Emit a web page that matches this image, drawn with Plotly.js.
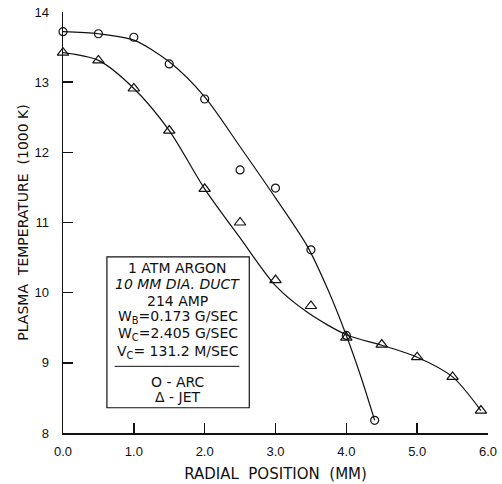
<!DOCTYPE html>
<html>
<head>
<meta charset="utf-8">
<script src="https://cdn.plot.ly/plotly-3.0.1.min.js"></script>
<style>html,body{margin:0;padding:0;background:#fff;}#chart{width:502px;height:484px;}</style>
</head>
<body>
<div id="chart"></div>
<script>
// Measured points
const arcX = [0.0, 0.5, 1.0, 1.5, 2.0, 2.5, 3.0, 3.5, 4.0, 4.4];
const arcY = [13.72, 13.69, 13.64, 13.26, 12.76, 11.75, 11.49, 10.61, 9.39, 8.18];
const jetX = [0.0, 0.5, 1.0, 1.5, 2.0, 2.5, 3.0, 3.5, 4.0, 4.5, 5.0, 5.5, 5.9];
const jetY = [13.42, 13.31, 12.91, 12.31, 11.48, 11.0, 10.18, 9.81, 9.36, 9.26, 9.08, 8.8, 8.32];
// Fitted curves
const arcFitX = [0.0, 0.5, 1.0, 1.5, 2.0, 2.5, 3.0, 3.45, 3.75, 4.0, 4.2, 4.4];
const arcFitY = [13.72, 13.69, 13.6, 13.29, 12.79, 12.08, 11.35, 10.66, 10.02, 9.39, 8.82, 8.18];
const jetFitX = [0.0, 0.5, 1.0, 1.5, 2.0, 2.5, 3.0, 3.45, 4.0, 4.5, 5.0, 5.5, 5.9];
const jetFitY = [13.42, 13.31, 12.91, 12.31, 11.48, 10.78, 10.1, 9.72, 9.4, 9.25, 9.08, 8.8, 8.32];
const xTicks = [0, 1, 2, 3, 4, 5, 6];
const xTickText = ["0.0", "1.0", "2.0", "3.0", "4.0", "5.0", "6.0"];
const yTicks = [8, 9, 10, 11, 12, 13, 14];
const yTickText = ["8", "9", "10", "11", "12", "13", "14"];
const boxLines = ["1 ATM ARGON", "<i>10 MM DIA. DUCT</i>", "214 AMP",
  "W<sub>B</sub>=0.173 G/SEC", "W<sub>C</sub>=2.405 G/SEC", "V<sub>C</sub>= 131.2 M/SEC"];
const keyLines = ["O - ARC", "Δ - JET"];

const FONT = "DejaVu Sans, Verdana, sans-serif";
const FONT2 = "Liberation Sans, Arial, sans-serif";
const traces = [
  {x: arcFitX, y: arcFitY, mode: "lines", line: {color: "#111", width: 1.2, shape: "spline", smoothing: 0.8}, hoverinfo: "skip"},
  {x: jetFitX, y: jetFitY, mode: "lines", line: {color: "#111", width: 1.2, shape: "spline", smoothing: 0.8}, hoverinfo: "skip"},
  {x: arcX, y: arcY, mode: "markers", cliponaxis: false,
   marker: {symbol: "circle-open", size: 8, color: "#111", line: {width: 1.2, color: "#111"}}},
  {x: jetX, y: jetY, mode: "markers", cliponaxis: false,
   marker: {symbol: "triangle-up-open", size: 10, color: "#111", line: {width: 1.2, color: "#111"}}}
];

const textYs = [10.35, 10.12, 9.88, 9.65, 9.41, 9.16];
const keyYs = [8.72, 8.51];
const annotations = [];
boxLines.forEach((t, i) => annotations.push({x: 1.62, y: textYs[i], xref: "x", yref: "y", text: t,
  showarrow: false, font: {family: FONT, size: 14, color: "#111"}, xanchor: "center", yanchor: "middle"}));
keyLines.forEach((t, i) => annotations.push({x: 1.62, y: keyYs[i], xref: "x", yref: "y", text: t,
  showarrow: false, font: {family: FONT, size: 14, color: "#111"}, xanchor: "center", yanchor: "middle"}));

const layout = {
  width: 502, height: 484,
  margin: {l: 63, r: 14, t: 12, b: 51},
  paper_bgcolor: "#fff", plot_bgcolor: "#fff",
  showlegend: false,
  font: {family: FONT, color: "#111"},
  xaxis: {range: [0, 6], tickvals: xTicks, ticktext: xTickText, ticks: "inside", ticklen: 10, tickwidth: 1.5,
    tickcolor: "#111", showline: true, linecolor: "#111", linewidth: 1.5, showgrid: false, zeroline: false,
    tickfont: {size: 13, family: FONT2}, ticklabelstandoff: 6,
    title: {text: "RADIAL  POSITION  (MM)", font: {size: 15, family: FONT}, standoff: 10}},
  yaxis: {range: [8, 14], tickvals: yTicks, ticktext: yTickText, ticks: "inside", ticklen: 10, tickwidth: 1.5,
    tickcolor: "#111", showline: true, linecolor: "#111", linewidth: 1.5, showgrid: false, zeroline: false,
    tickfont: {size: 13, family: FONT2}, ticklabelstandoff: 10,
    title: {text: "PLASMA  TEMPERATURE  (1000 K)", font: {size: 14, family: FONT}, standoff: 2}},
  shapes: [
    {type: "rect", xref: "x", yref: "y", x0: 0.62, x1: 2.63, y0: 8.36, y1: 10.51, line: {color: "#111", width: 1.2}},
    {type: "line", xref: "x", yref: "y", x0: 0.73, x1: 2.49, y0: 8.95, y1: 8.95, line: {color: "#111", width: 1}}
  ],
  annotations: annotations
};
Plotly.newPlot("chart", traces, layout, {displayModeBar: false, staticPlot: true});
</script>
</body>
</html>
